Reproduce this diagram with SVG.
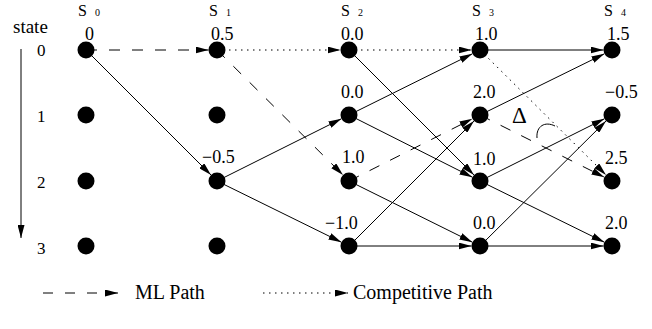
<svg xmlns="http://www.w3.org/2000/svg" width="652" height="329" viewBox="0 0 652 329">
<defs>
<marker id="ah" markerUnits="userSpaceOnUse" viewBox="0 0 13 7" markerWidth="13" markerHeight="7" refX="13" refY="3.5" orient="auto">
<path d="M0,0 L13,3.5 L0,7 Z" fill="#000"/>
</marker>
</defs>

<g id="axis">
<text font-family="Liberation Serif" font-size="19" x="13" y="33">state</text>
<line x1="21" y1="49" x2="21" y2="238" stroke="#000" stroke-width="1" marker-end="url(#ah)"/>
<text font-family="Liberation Serif" font-size="17" x="37" y="56">0</text>
<text font-family="Liberation Serif" font-size="17" x="37" y="122">1</text>
<text font-family="Liberation Serif" font-size="17" x="37" y="188">2</text>
<text font-family="Liberation Serif" font-size="17" x="37" y="254">3</text>
</g>

<g id="stage-labels">
<text font-family="Liberation Serif" font-size="16" x="78" y="16">S</text><text font-family="Liberation Serif" font-size="10" x="95" y="16">0</text>
<text font-family="Liberation Serif" font-size="16" x="209" y="16">S</text><text font-family="Liberation Serif" font-size="10" x="226" y="16">1</text>
<text font-family="Liberation Serif" font-size="16" x="341" y="16">S</text><text font-family="Liberation Serif" font-size="10" x="358" y="16">2</text>
<text font-family="Liberation Serif" font-size="16" x="472" y="16">S</text><text font-family="Liberation Serif" font-size="10" x="489" y="16">3</text>
<text font-family="Liberation Serif" font-size="16" x="604" y="16">S</text><text font-family="Liberation Serif" font-size="10" x="621" y="16">4</text>
</g>

<g id="connectors">
<line stroke="#000" stroke-width="1" marker-end="url(#ah)" stroke-dasharray="11 12" x1="86" y1="50" x2="208.5" y2="50"/>
<line stroke="#000" stroke-width="1" marker-end="url(#ah)" x1="86" y1="50" x2="211" y2="175"/>
<line stroke="#000" stroke-width="1" marker-end="url(#ah)" stroke-dasharray="1.5 4.5" x1="217" y1="50" x2="340.5" y2="50"/>
<line stroke="#000" stroke-width="1" marker-end="url(#ah)" stroke-dasharray="11 12" x1="217" y1="50" x2="343" y2="175"/>
<line stroke="#000" stroke-width="1" marker-end="url(#ah)" x1="217" y1="181" x2="341.4" y2="118.8"/>
<line stroke="#000" stroke-width="1" marker-end="url(#ah)" x1="217" y1="181" x2="341.4" y2="242.2"/>
<line stroke="#000" stroke-width="1" marker-end="url(#ah)" stroke-dasharray="1.5 4.5" x1="349" y1="50" x2="471.5" y2="50"/>
<line stroke="#000" stroke-width="1" marker-end="url(#ah)" x1="349" y1="50" x2="474" y2="175"/>
<line stroke="#000" stroke-width="1" marker-end="url(#ah)" x1="349" y1="115" x2="472.4" y2="53.8"/>
<line stroke="#000" stroke-width="1" marker-end="url(#ah)" x1="349" y1="115" x2="472.4" y2="177.2"/>
<line stroke="#000" stroke-width="1" marker-end="url(#ah)" stroke-dasharray="11 12" x1="349" y1="181" x2="472.4" y2="118.8"/>
<line stroke="#000" stroke-width="1" marker-end="url(#ah)" x1="349" y1="181" x2="472.4" y2="242.2"/>
<line stroke="#000" stroke-width="1" marker-end="url(#ah)" x1="349" y1="246" x2="474" y2="121"/>
<line stroke="#000" stroke-width="1" marker-end="url(#ah)" x1="349" y1="246" x2="471.5" y2="246"/>
<line stroke="#000" stroke-width="1" marker-end="url(#ah)" x1="480" y1="50" x2="603.5" y2="50"/>
<line stroke="#000" stroke-width="1" marker-end="url(#ah)" stroke-dasharray="1.5 4.5" x1="480" y1="50" x2="606" y2="175"/>
<line stroke="#000" stroke-width="1" marker-end="url(#ah)" x1="480" y1="115" x2="604.4" y2="53.8"/>
<line stroke="#000" stroke-width="1" marker-end="url(#ah)" stroke-dasharray="11 12" x1="480" y1="115" x2="604.4" y2="177.2"/>
<line stroke="#000" stroke-width="1" marker-end="url(#ah)" x1="480" y1="181" x2="604.4" y2="118.8"/>
<line stroke="#000" stroke-width="1" marker-end="url(#ah)" x1="480" y1="181" x2="604.4" y2="242.2"/>
<line stroke="#000" stroke-width="1" marker-end="url(#ah)" x1="480" y1="246" x2="606" y2="121"/>
<line stroke="#000" stroke-width="1" marker-end="url(#ah)" x1="480" y1="246" x2="603.5" y2="246"/>
</g>

<g id="n0-0"><circle fill="#000" cx="86" cy="50" r="8.5"/><text font-family="Liberation Serif" font-size="18" x="85" y="40">0</text></g>
<g id="n0-1"><circle fill="#000" cx="86" cy="115" r="8.5"/></g>
<g id="n0-2"><circle fill="#000" cx="86" cy="181" r="8.5"/></g>
<g id="n0-3"><circle fill="#000" cx="86" cy="246" r="8.5"/></g>

<g id="n1-0"><circle fill="#000" cx="217" cy="50" r="8.5"/><text font-family="Liberation Serif" font-size="18" x="211" y="40">0.5</text></g>
<g id="n1-1"><circle fill="#000" cx="217" cy="115" r="8.5"/></g>
<g id="n1-2"><circle fill="#000" cx="217" cy="181" r="8.5"/><text font-family="Liberation Serif" font-size="18" x="202" y="163">−0.5</text></g>
<g id="n1-3"><circle fill="#000" cx="217" cy="246" r="8.5"/></g>

<g id="n2-0"><circle fill="#000" cx="349" cy="50" r="8.5"/><text font-family="Liberation Serif" font-size="18" x="341" y="40">0.0</text></g>
<g id="n2-1"><circle fill="#000" cx="349" cy="115" r="8.5"/><text font-family="Liberation Serif" font-size="18" x="341" y="98">0.0</text></g>
<g id="n2-2"><circle fill="#000" cx="349" cy="181" r="8.5"/><text font-family="Liberation Serif" font-size="18" x="342" y="163">1.0</text></g>
<g id="n2-3"><circle fill="#000" cx="349" cy="246" r="8.5"/><text font-family="Liberation Serif" font-size="18" x="325" y="229">−1.0</text></g>

<g id="n3-0"><circle fill="#000" cx="480" cy="50" r="8.5"/><text font-family="Liberation Serif" font-size="18" x="475" y="40">1.0</text></g>
<g id="n3-1"><circle fill="#000" cx="480" cy="115" r="8.5"/><text font-family="Liberation Serif" font-size="18" x="473" y="98">2.0</text></g>
<g id="n3-2"><circle fill="#000" cx="480" cy="181" r="8.5"/><text font-family="Liberation Serif" font-size="18" x="473" y="165">1.0</text></g>
<g id="n3-3"><circle fill="#000" cx="480" cy="246" r="8.5"/><text font-family="Liberation Serif" font-size="18" x="473" y="229">0.0</text></g>

<g id="n4-0"><circle fill="#000" cx="612" cy="50" r="8.5"/><text font-family="Liberation Serif" font-size="18" x="607" y="40">1.5</text></g>
<g id="n4-1"><circle fill="#000" cx="612" cy="115" r="8.5"/><text font-family="Liberation Serif" font-size="18" x="605" y="98">−0.5</text></g>
<g id="n4-2"><circle fill="#000" cx="612" cy="181" r="8.5"/><text font-family="Liberation Serif" font-size="18" x="605" y="164">2.5</text></g>
<g id="n4-3"><circle fill="#000" cx="612" cy="246" r="8.5"/><text font-family="Liberation Serif" font-size="18" x="605" y="229">2.0</text></g>

<g id="delta-annotation">
<text x="512" y="123" font-size="23" font-family="Liberation Serif">Δ</text>
<path d="M537,138 C536,126 545,121 555,126" fill="none" stroke="#000" stroke-width="1"/>
</g>

<g id="legend">
<line stroke="#000" stroke-width="1" marker-end="url(#ah)" stroke-dasharray="10 12" x1="43" y1="293" x2="118" y2="293"/>
<text font-family="Liberation Serif" font-size="20" x="135" y="299">ML Path</text>
<line stroke="#000" stroke-width="1" marker-end="url(#ah)" stroke-dasharray="1.5 4.5" x1="263" y1="293" x2="348" y2="293"/>
<text font-family="Liberation Serif" font-size="20" x="353" y="299">Competitive Path</text>
</g>
</svg>
